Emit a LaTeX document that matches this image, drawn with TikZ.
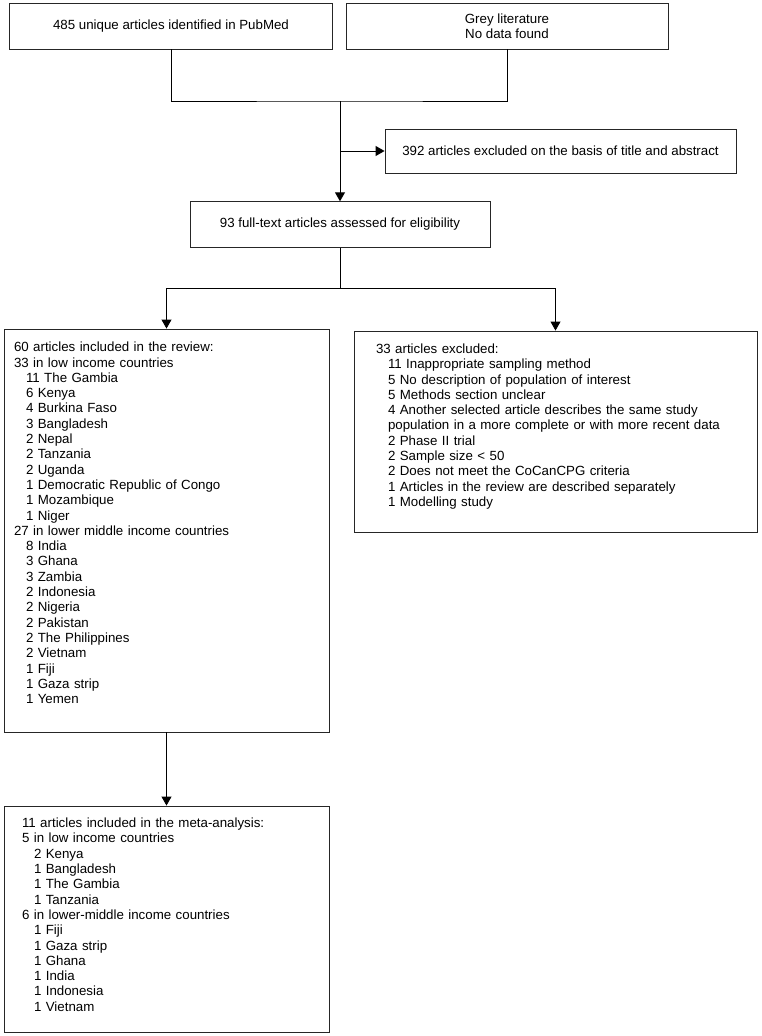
\documentclass[tikz,border=0pt]{standalone}
\usepackage{fontspec}
\setmainfont{Liberation Sans}
\usetikzlibrary{arrows.meta}
\newcommand{\indentry}{\hspace*{12pt}}

\begin{document}
\begin{tikzpicture}[
  x=1pt, y=-1pt,
  >={Triangle[length=9pt,width=10pt]},
  box/.style={draw=black!85, line width=0.9pt, align=center, inner sep=0pt},
  head/.style={box, font=\fontsize{13.3}{14.5}\selectfont},
  list/.style={box, align=left, inner ysep=0pt, font=\fontsize{13.3}{15.3}\selectfont},
  e/.style={line width=0.9pt, draw=black},
]
\useasboundingbox (0,0) rectangle (762,1036);

% search and screening
\node[head, minimum width=323pt, minimum height=46pt] (pubmed) at (171,26)
  {485 unique articles identified in PubMed};
\node[head, minimum width=322pt, minimum height=46pt] (grey) at (507,26)
  {Grey literature\\No data found};
\node[head, minimum width=351pt, minimum height=44pt] (screened) at (560.5,151)
  {392 articles excluded on the basis of title and abstract};
\node[head, minimum width=300pt, minimum height=45.5pt] (fulltext) at (340,224.5)
  {93 full-text articles assessed for eligibility};

% included / excluded
\node[list, text width=305pt, inner xsep=10pt, minimum height=403pt] (review) at (166.5,530.5)
  {60 articles included in the review:\\
   33 in low income countries\\
   \indentry 11 The Gambia\\
   \indentry 6 Kenya\\
   \indentry 4 Burkina Faso\\
   \indentry 3 Bangladesh\\
   \indentry 2 Nepal\\
   \indentry 2 Tanzania\\
   \indentry 2 Uganda\\
   \indentry 1 Democratic Republic of Congo\\
   \indentry 1 Mozambique\\
   \indentry 1 Niger\\
   27 in lower middle income countries\\
   \indentry 8 India\\
   \indentry 3 Ghana\\
   \indentry 3 Zambia\\
   \indentry 2 Indonesia\\
   \indentry 2 Nigeria\\
   \indentry 2 Pakistan\\
   \indentry 2 The Philippines\\
   \indentry 2 Vietnam\\
   \indentry 1 Fiji\\
   \indentry 1 Gaza strip\\
   \indentry 1 Yemen\\
   \mbox{}};
\node[list, text width=359pt, inner xsep=22pt, minimum height=201pt] (excluded) at (555.5,431.5)
  {33 articles excluded:\\
   \indentry 11 Inappropriate sampling method\\
   \indentry 5 No description of population of interest\\
   \indentry 5 Methods section unclear\\
   \indentry 4 Another selected article describes the same study\\
   \indentry population in a more complete or with more recent data\\
   \indentry 2 Phase II trial\\
   \indentry 2 Sample size < 50\\
   \indentry 2 Does not meet the CoCanCPG criteria\\
   \indentry 1 Articles in the review are described separately\\
   \indentry 1 Modelling study\\[-2.6pt]
   \mbox{}};
\node[list, text width=289pt, inner xsep=18pt, minimum height=226pt] (meta) at (166.5,919)
  {11 articles included in the meta-analysis:\\
   5 in low income countries\\
   \indentry 2 Kenya\\
   \indentry 1 Bangladesh\\
   \indentry 1 The Gambia\\
   \indentry 1 Tanzania\\
   6 in lower-middle income countries\\
   \indentry 1 Fiji\\
   \indentry 1 Gaza strip\\
   \indentry 1 Ghana\\
   \indentry 1 India\\
   \indentry 1 Indonesia\\
   \indentry 1 Vietnam\\[-6.6pt]
   \mbox{}};

\coordinate (merge) at (340,101);
\coordinate (branch) at (340,288.7);

\draw[e] (pubmed.south) |- (merge) -| (grey.south);
\draw[e,->] (merge) -- (fulltext.north);
\draw[e,->] (merge |- screened.west) -- (screened.west);
\draw[e] (fulltext.south) -- (branch);
\draw[e,->] (branch) -| (review.north);
\draw[e,->] (branch) -| (excluded.north);
\draw[e,->] (review.south) -- (meta.north);
\end{tikzpicture}
\end{document}
